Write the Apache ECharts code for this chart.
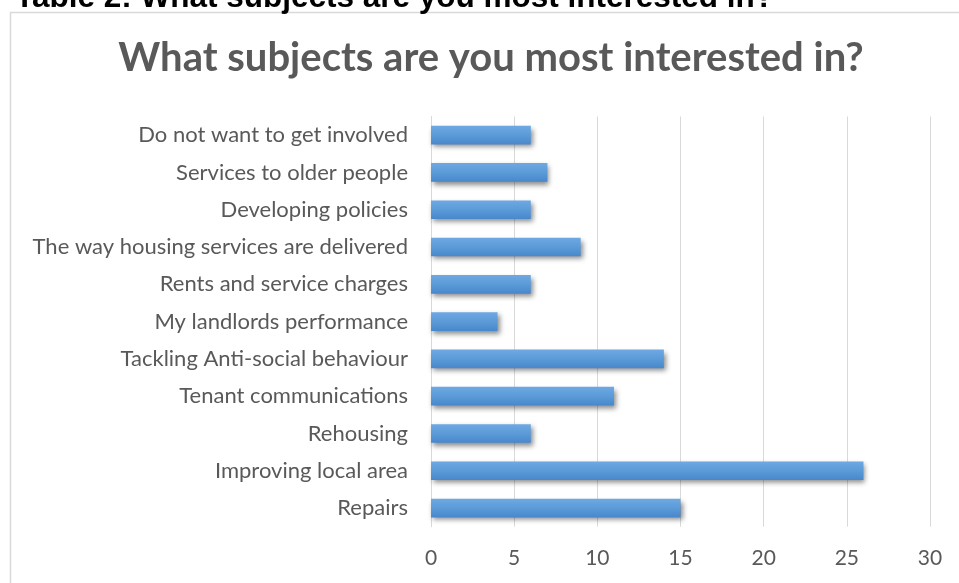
<!DOCTYPE html>
<html>
<head>
<meta charset="utf-8">
<script src="https://cdn.jsdelivr.net/npm/echarts@6/dist/echarts.min.js"></script>
<style>html,body{margin:0;padding:0;background:#fff;}#c{width:959px;height:583px;}</style>
</head>
<body>
<div id="c"></div>
<script>
var categories = [
  "Do not want to get involved",
  "Services to older people",
  "Developing policies",
  "The way housing services are delivered",
  "Rents and service charges",
  "My landlords performance",
  "Tackling Anti-social behaviour",
  "Tenant communications",
  "Rehousing",
  "Improving local area",
  "Repairs"
];
var values = [6, 7, 6, 9, 6, 4, 14, 11, 6, 26, 15];
var xTicks = [0, 5, 10, 15, 20, 25, 30];
var chartTitle = "What subjects are you most interested in?";
var heading = "Table 2: What subjects are you most interested in?";

var chart = echarts.init(document.getElementById('c'), null, {renderer: 'canvas'});
chart.setOption({
  animation: false,
  backgroundColor: '#ffffff',
  grid: {left: 431, right: 29, top: 116.5, bottom: 56.3, containLabel: false},
  xAxis: {
    type: 'value', min: xTicks[0], max: xTicks[xTicks.length - 1], interval: 5,
    axisLine: {show: false}, axisTick: {show: false},
    splitLine: {show: true, lineStyle: {color: '#d9d9d9', width: 1}},
    axisLabel: {color: '#595959', fontFamily: 'Lato', fontSize: 21, margin: 21}
  },
  yAxis: {
    type: 'category', data: categories, inverse: true,
    axisLine: {show: true, lineStyle: {color: '#d9d9d9', width: 1}},
    axisTick: {show: false},
    axisLabel: {color: '#595959', fontFamily: 'Lato', fontSize: 22, margin: 23}
  },
  series: [{
    type: 'bar', data: values, barWidth: '50%',
    itemStyle: {
      color: new echarts.graphic.LinearGradient(0, 0, 0, 1, [
        {offset: 0, color: '#6ea9e3'},
        {offset: 0.5, color: '#5b9bd8'},
        {offset: 1, color: '#4887cb'}
      ]),
      shadowColor: 'rgba(0,0,0,0.45)', shadowBlur: 5, shadowOffsetX: 2, shadowOffsetY: 3
    }
  }],
  graphic: [
    {type: 'rect', shape: {x: 10.5, y: 12.5, width: 970, height: 620},
     style: {fill: 'none', stroke: '#d9d9d9', lineWidth: 1.5}, silent: true},
    {type: 'text', x: 15, y: -1.5,
     style: {text: heading, font: 'bold 31.5px "Liberation Sans", Arial', fill: '#000000',
             textAlign: 'left', textVerticalAlign: 'middle'}},
    {type: 'text', x: 491, y: 58,
     style: {text: chartTitle, font: 'bold 40px Lato', fill: '#595959',
             textAlign: 'center', textVerticalAlign: 'middle'}}
  ]
});
</script>
</body>
</html>
